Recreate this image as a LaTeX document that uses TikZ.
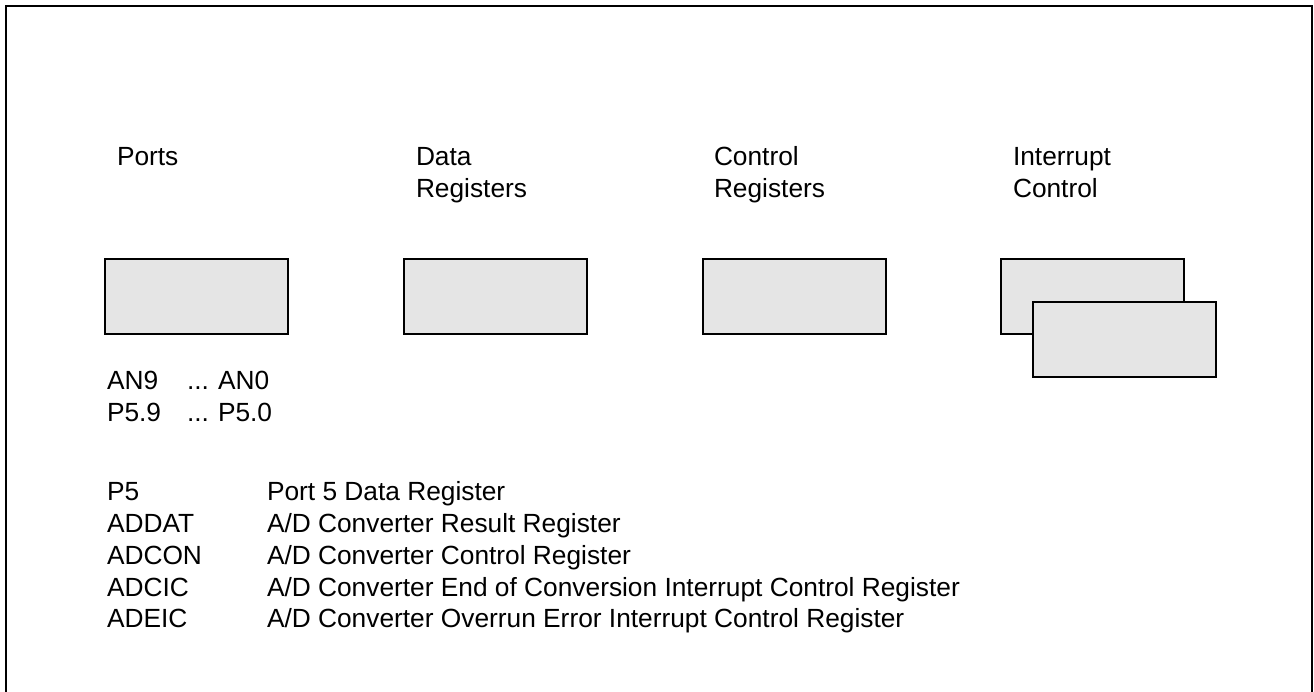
\documentclass[tikz,border=0pt]{standalone}
\usepackage{fontspec}
\setmainfont{Liberation Sans}
\definecolor{boxfill}{HTML}{E5E5E5}
\begin{document}
\begin{tikzpicture}[x=1pt,y=-1pt,
  regbox/.style={draw=black,line width=2.8pt,fill=boxfill,minimum width=183pt,minimum height=75pt,inner sep=0pt,outer sep=0pt},
  lbl/.style={anchor=base west,inner sep=0pt,outer sep=0pt,font=\fontsize{26.3}{32}\selectfont}]
\useasboundingbox (0,0) rectangle (1314,691);
\begin{scope}
\clip (0,0) rectangle (1314,691);
\draw[line width=2.8pt] (6,700) -- (6,6) -- (1312,6) -- (1312,700);
\end{scope}
% headings
\node[lbl] (hports) at (117,165) {Ports};
\node[lbl] (hdata1) at (416,165) {Data};
\node[lbl] (hdata2) at (416,197) {Registers};
\node[lbl] (hctl1) at (714,165) {Control};
\node[lbl] (hctl2) at (714,197) {Registers};
\node[lbl] (hint1) at (1013,165) {Interrupt};
\node[lbl] (hint2) at (1013,197) {Control};
% boxes
\node[regbox] (bports) at (196.5,296.5) {};
\node[regbox] (bdata) at (495.5,296.5) {};
\node[regbox] (bctl) at (794.5,296.5) {};
\node[regbox] (bint1) at (1092.5,296.5) {};
\node[regbox] (bint2) at (1124.5,339.5) {};
% pins
\node[lbl] (an9) at (107,389) {AN9};
\node[lbl] (dots1) at (187,389) {...};
\node[lbl] (an0) at (218,389) {AN0};
\node[lbl] (p59) at (107,421) {P5.9};
\node[lbl] (dots2) at (187,421) {...};
\node[lbl] (p50) at (218,421) {P5.0};
% legend
\node[lbl] (k1) at (107,500) {P5};
\node[lbl] (d1) at (267,500) {Port 5 Data Register};
\node[lbl] (k2) at (107,532) {ADDAT};
\node[lbl] (d2) at (267,532) {A/D Converter Result Register};
\node[lbl] (k3) at (107,564) {ADCON};
\node[lbl] (d3) at (267,564) {A/D Converter Control Register};
\node[lbl] (k4) at (107,596) {ADCIC};
\node[lbl] (d4) at (267,596) {A/D Converter End of Conversion Interrupt Control Register};
\node[lbl] (k5) at (107,627) {ADEIC};
\node[lbl] (d5) at (267,627) {A/D Converter Overrun Error Interrupt Control Register};
\end{tikzpicture}
\end{document}
